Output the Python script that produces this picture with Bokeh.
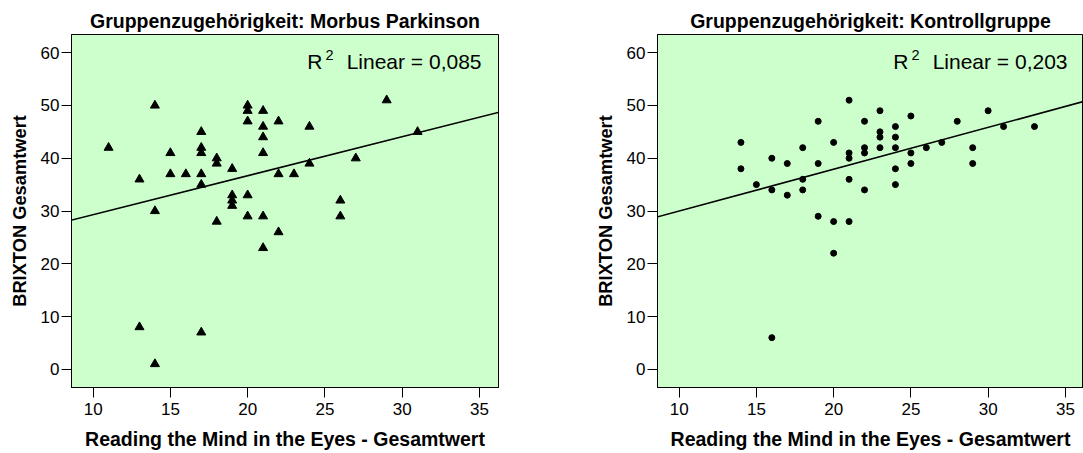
import numpy as np
from bokeh.plotting import figure
from bokeh.layouts import row
from bokeh.models import Range1d, Label, Slope
from bokeh.embed import file_html
from bokeh.resources import INLINE

# ---- data ----
pd_x = [11, 13, 13, 14, 14, 14, 15, 15, 16, 17, 17, 17, 17, 17, 17, 18, 18, 18,
        19, 19, 19, 19, 20, 20, 20, 20, 20, 21, 21, 21, 21, 21, 21, 22, 22, 22,
        23, 24, 24, 26, 26, 27, 29, 31]
pd_y = [42, 36, 8, 50, 30, 1, 41, 37, 37, 45, 42, 41, 37, 35, 7, 40, 39, 28,
        38, 33, 32, 31, 50, 49, 47, 33, 29, 49, 46, 44, 41, 29, 23, 47, 37, 26,
        37, 46, 39, 32, 29, 40, 51, 45]

kg_x = [14, 14, 15, 16, 16, 16, 17, 17, 18, 18, 18, 19, 19, 19, 20, 20, 20,
        21, 21, 21, 21, 21, 22, 22, 22, 22, 23, 23, 23, 23, 24, 24, 24, 24, 24,
        25, 25, 25, 26, 27, 28, 29, 29, 30, 31, 33]
kg_y = [43, 38, 35, 40, 34, 6, 39, 33, 42, 36, 34, 47, 39, 29, 43, 28, 22,
        51, 41, 40, 36, 28, 47, 42, 41, 34, 49, 45, 44, 42, 46, 44, 42, 38, 35,
        48, 41, 39, 42, 43, 47, 42, 39, 49, 46, 46]

x_ticks = [10, 15, 20, 25, 30, 35]
y_ticks = [0, 10, 20, 30, 40, 50, 60]
titles = ["Gruppenzugehörigkeit: Morbus Parkinson", "Gruppenzugehörigkeit: Kontrollgruppe"]
r2_texts = ["Linear = 0,085", "Linear = 0,203"]
x_label = "Reading the Mind in the Eyes - Gesamtwert"
y_label = "BRIXTON Gesamtwert"

FONT = "Liberation Sans"
PX_PER_X = 15.45


def make_panel(xs, ys, title, r2_text, marker, msize, frame_w, b_left, b_right, r2_off):
    x0 = 8.6
    x1 = x0 + frame_w / PX_PER_X
    p = figure(frame_width=frame_w, frame_height=353,
               x_range=Range1d(x0, x1), y_range=Range1d(-3.45, 63.45),
               output_backend="svg", toolbar_location=None,
               min_border_left=b_left, min_border_right=b_right,
               min_border_top=34, min_border_bottom=52,
               background_fill_color="#CCFFCC", border_fill_color="white",
               outline_line_color="black", outline_line_width=1)
    p.title.text = title
    p.title.align = "center"
    p.title.text_font = FONT
    p.title.text_font_size = "19.5px"
    p.title.text_font_style = "bold"
    p.title.text_color = "black"
    p.title.standoff = 5
    p.grid.visible = False

    for ax in (p.xaxis, p.yaxis):
        ax.axis_line_color = "black"
        ax.major_tick_line_color = "black"
        ax.major_tick_out = 10
        ax.major_tick_in = 0
        ax.minor_tick_out = 0
        ax.minor_tick_in = 0
        ax.major_label_text_font = FONT
        ax.major_label_text_font_size = "17px"
        ax.major_label_text_color = "black"
        ax.axis_label_text_font = FONT
        ax.axis_label_text_font_style = "bold"
        ax.axis_label_text_color = "black"
    p.xaxis.axis_label_text_font_size = "19.5px"
    p.yaxis.axis_label_text_font_size = "18.3px"
    p.xaxis.ticker = x_ticks
    p.yaxis.ticker = y_ticks
    p.xaxis.axis_label = x_label
    p.yaxis.axis_label = y_label
    p.xaxis.major_label_standoff = 5
    p.yaxis.major_label_standoff = 2
    p.xaxis.axis_label_standoff = 10
    p.yaxis.axis_label_standoff = 8

    p.scatter(xs, ys, marker=marker, size=msize, color="black")

    xa = np.array(xs, float)
    ya = np.array(ys, float)
    m, b = np.polyfit(xa, ya, 1)
    p.add_layout(Slope(gradient=m, y_intercept=b, line_color="black", line_width=1.6))

    # R^2 annotation
    p.add_layout(Label(x=x1, y=63.45, x_offset=r2_off, y_offset=-27,
                       text=r2_text, text_align="right", text_baseline="alphabetic",
                       text_font=FONT, text_font_size="21px", text_color="black"))
    p.add_layout(Label(x=x1, y=63.45, x_offset=r2_off - 148, y_offset=-20,
                       text="2", text_align="right", text_baseline="alphabetic",
                       text_font=FONT, text_font_size="14.5px", text_color="black"))
    p.add_layout(Label(x=x1, y=63.45, x_offset=r2_off - 159, y_offset=-27,
                       text="R", text_align="right", text_baseline="alphabetic",
                       text_font=FONT, text_font_size="21px", text_color="black"))
    return p


p1 = make_panel(pd_x, pd_y, titles[0], r2_texts[0], "triangle", 9, 427, 71, 20, -17)
p2 = make_panel(kg_x, kg_y, titles[1], r2_texts[1], "circle", 6, 426, 139, 0, -16)

layout = row(p1, p2)
open("out.html", "w").write(file_html(layout, INLINE))
